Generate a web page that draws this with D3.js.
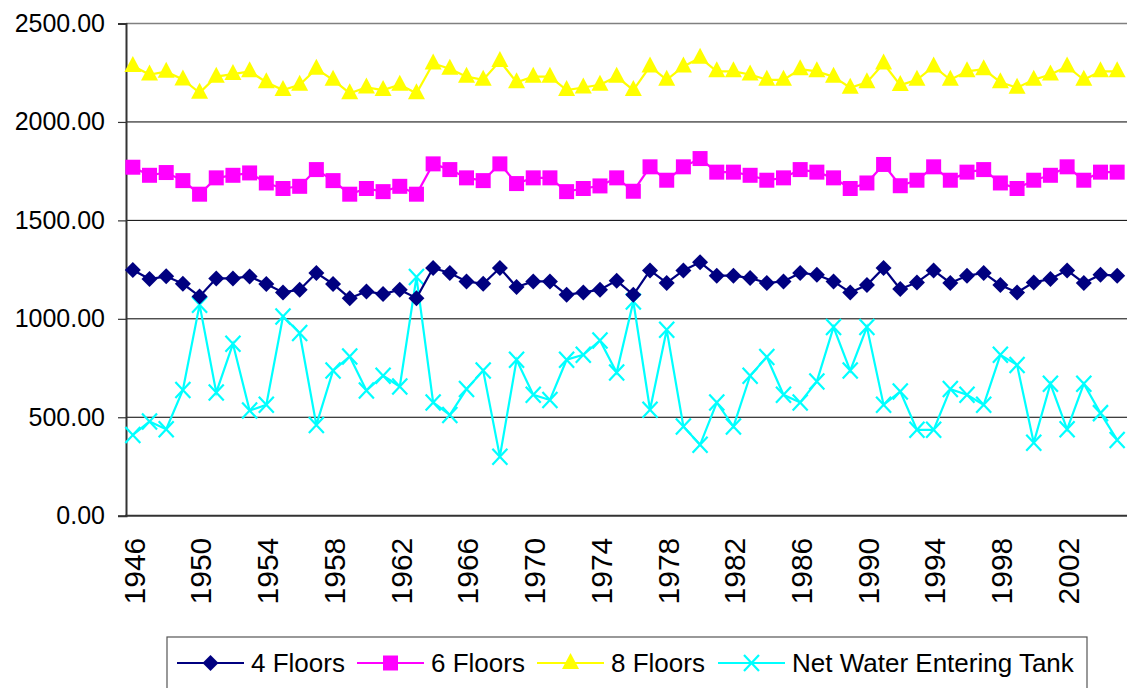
<!DOCTYPE html>
<html>
<head>
<meta charset="utf-8">
<script src="https://cdn.jsdelivr.net/npm/d3@7.9.0/dist/d3.min.js"></script>
<style>
  body { margin: 0; background: #fff; }
  svg { display: block; font-family: "Liberation Sans", Arial, sans-serif; }
</style>
</head>
<body>
<svg id="chart" width="1127" height="688"></svg>
<script>
const years = d3.range(1946, 2006);
const yTicks = [0, 500, 1000, 1500, 2000, 2500];
const xTickYears = d3.range(1946, 2006, 4);

const floors4 = [1248, 1202, 1216, 1178, 1114, 1205, 1205, 1215, 1177, 1134,
  1148, 1233, 1177, 1105, 1139, 1126, 1148, 1105, 1258, 1233,
  1190, 1178, 1258, 1162, 1190, 1190, 1122, 1134, 1148, 1194,
  1122, 1246, 1182, 1246, 1287, 1219, 1219, 1207, 1182, 1190,
  1233, 1224, 1190, 1134, 1172, 1258, 1151, 1185, 1246, 1182,
  1219, 1233, 1172, 1134, 1185, 1202, 1246, 1182, 1224, 1219];

const floors6 = [1770, 1729, 1743, 1702, 1633, 1716, 1729, 1741, 1690, 1662,
  1673, 1758, 1702, 1633, 1662, 1646, 1673, 1633, 1787, 1758,
  1716, 1702, 1787, 1687, 1716, 1716, 1646, 1662, 1675, 1716,
  1648, 1772, 1704, 1772, 1814, 1745, 1745, 1729, 1704, 1716,
  1758, 1745, 1716, 1662, 1690, 1784, 1676, 1704, 1772, 1704,
  1745, 1758, 1690, 1662, 1704, 1729, 1772, 1704, 1745, 1745];

const floors8 = [2284, 2241, 2255, 2216, 2148, 2230, 2243, 2257, 2202, 2162,
  2189, 2270, 2214, 2146, 2175, 2162, 2189, 2146, 2297, 2270,
  2230, 2214, 2309, 2202, 2230, 2230, 2162, 2175, 2189, 2230,
  2162, 2282, 2214, 2282, 2326, 2257, 2257, 2241, 2214, 2214,
  2268, 2257, 2230, 2174, 2201, 2297, 2187, 2214, 2282, 2214,
  2257, 2268, 2202, 2174, 2214, 2241, 2282, 2214, 2257, 2257];

const netWater = [410, 478, 439, 639, 1072, 626, 873, 534, 563, 1012,
  928, 461, 737, 809, 636, 711, 656, 1212, 575, 512,
  643, 737, 300, 792, 614, 588, 792, 817, 890, 727,
  1088, 538, 944, 453, 360, 575, 453, 711, 806, 614,
  575, 682, 958, 737, 958, 563, 631, 436, 436, 643,
  614, 563, 817, 766, 371, 670, 439, 670, 521, 385];

const seriesNames = ['4 Floors', '6 Floors', '8 Floors', 'Net Water Entering Tank'];
const seriesValues = [floors4, floors6, floors8, netWater];
const seriesColors = ['#000080', '#ff00ff', '#ffff00', '#00ffff'];
const seriesMarkers = ['diamond', 'square', 'triangle', 'cross'];

const svg = d3.select('#chart');

const plot = { left: 126, right: 1127, top: 23.5, bottom: 515.7 };

const x = d3.scaleBand().domain(years).range([124.5, 1125.5]);
const y = d3.scaleLinear().domain([0, 2500]).range([plot.bottom, plot.top]);
const cx = d => x(d) + x.bandwidth() / 2;

// gridlines
svg.append('g')
  .selectAll('line')
  .data(yTicks.filter(d => d > 0))
  .join('line')
  .attr('x1', plot.left).attr('x2', plot.right)
  .attr('y1', d => y(d)).attr('y2', d => y(d))
  .attr('stroke', d => d === 2500 ? '#808080' : '#000')
  .attr('stroke-width', d => d === 2500 ? 1.5 : 1);

// y axis
const yAxis = svg.append('g')
  .attr('transform', `translate(${plot.left},0)`)
  .call(d3.axisLeft(y).tickValues(yTicks).tickFormat(d3.format('.2f')).tickSize(8).tickPadding(13));
yAxis.select('.domain').attr('stroke', '#333').attr('stroke-width', 2);
yAxis.selectAll('.tick line').attr('stroke', '#333').attr('stroke-width', 1.2);
yAxis.selectAll('.tick text').attr('font-size', 25).attr('fill', '#000')
  .attr('font-family', '"Liberation Sans", Arial, sans-serif');

// x axis
svg.append('line')
  .attr('x1', plot.left - 1).attr('x2', plot.right)
  .attr('y1', plot.bottom).attr('y2', plot.bottom)
  .attr('stroke', '#333').attr('stroke-width', 2);

svg.append('g')
  .selectAll('text')
  .data(xTickYears)
  .join('text')
  .attr('transform', d => `translate(${cx(d) + 1},${plot.bottom + 22}) rotate(-90)`)
  .attr('text-anchor', 'end')
  .attr('dy', '0.36em')
  .attr('font-size', 30)
  .text(d => d);

// marker shapes
function markerPath(type) {
  if (type === 'diamond') return 'M0,-8L8,0L0,8L-8,0Z';
  if (type === 'square') return 'M-7.5,-7.5H7.5V7.5H-7.5Z';
  if (type === 'triangle') return 'M0,-10L8.5,6L-8.5,6Z';
  return 'M-7.5,-8L7.5,8M-7.5,8L7.5,-8';
}

function drawMarker(g, type, color) {
  const p = g.append('path').attr('d', markerPath(type));
  if (type === 'cross') {
    p.attr('fill', 'none').attr('stroke', color).attr('stroke-width', 2.2);
  } else {
    p.attr('fill', color);
  }
}

const line = d3.line().x((d, i) => cx(years[i])).y(d => y(d));

// series, drawn back to front like the original
[3, 2, 1, 0].forEach(si => {
  const g = svg.append('g');
  g.append('path')
    .datum(seriesValues[si])
    .attr('d', line)
    .attr('fill', 'none')
    .attr('stroke', seriesColors[si])
    .attr('stroke-width', 2.2);
  g.selectAll('g.pt')
    .data(seriesValues[si])
    .join('g')
    .attr('class', 'pt')
    .attr('transform', (d, i) => `translate(${cx(years[i])},${y(d)})`)
    .each(function () { drawMarker(d3.select(this), seriesMarkers[si], seriesColors[si]); });
});

// legend
const legend = svg.append('g');
legend.append('rect')
  .attr('x', 167).attr('y', 637)
  .attr('width', 920).attr('height', 70)
  .attr('fill', '#fff').attr('stroke', '#555').attr('stroke-width', 1.2);

const legendStart = [177, 357, 537, 718];
seriesNames.forEach((name, i) => {
  const g = legend.append('g').attr('transform', `translate(${legendStart[i]},663)`);
  g.append('line').attr('x1', 0).attr('x2', 67).attr('y1', 0).attr('y2', 0)
    .attr('stroke', seriesColors[i]).attr('stroke-width', 2.2);
  const m = g.append('g').attr('transform', 'translate(33.5,0)');
  drawMarker(m, seriesMarkers[i], seriesColors[i]);
  g.append('text')
    .attr('x', 74).attr('y', 9)
    .attr('font-size', 26)
    .text(name);
});
</script>
</body>
</html>
